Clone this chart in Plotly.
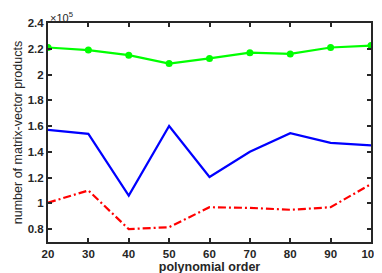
import plotly.graph_objects as go

orders = [20, 30, 40, 50, 60, 70, 80, 90, 100]
green_vals = [2.21, 2.19, 2.15, 2.085, 2.125, 2.17, 2.16, 2.21, 2.225]
blue_vals = [1.57, 1.54, 1.06, 1.60, 1.205, 1.40, 1.545, 1.47, 1.45]
red_vals = [1.005, 1.10, 0.80, 0.815, 0.97, 0.965, 0.95, 0.97, 1.15]
y_ticks = [0.8, 1.0, 1.2, 1.4, 1.6, 1.8, 2.0, 2.2, 2.4]
y_ticktext = ["0.8", "1", "1.2", "1.4", "1.6", "1.8", "2", "2.2", "2.4"]
x_ticks = [20, 30, 40, 50, 60, 70, 80, 90, 100]

fig = go.Figure()
fig.add_trace(go.Scatter(x=orders, y=green_vals, mode="lines+markers",
                         line=dict(color="#00ff00", width=2.2),
                         marker=dict(color="#00ff00", size=7)))
fig.add_trace(go.Scatter(x=orders, y=blue_vals, mode="lines",
                         line=dict(color="#0000ff", width=2.2)))
fig.add_trace(go.Scatter(x=orders, y=red_vals, mode="lines",
                         line=dict(color="#ff0000", width=2.2, dash="8px,3px,2px,3px")))

tickfont = dict(family="Liberation Sans", size=11.5, color="#262626", weight="bold")
axis_common = dict(showline=True, linecolor="#262626", linewidth=2, mirror="ticks",
                   ticks="inside", ticklen=4, tickwidth=2, tickcolor="#262626",
                   showgrid=False, zeroline=False, tickfont=tickfont)

fig.update_layout(
    width=382, height=273,
    margin=dict(l=35, r=9, t=14, b=31),
    paper_bgcolor="white", plot_bgcolor="white",
    showlegend=False,
    font=dict(family="Liberation Sans", color="#262626"),
    xaxis=dict(range=[20, 100], tickvals=x_ticks,
               title=dict(text="<b>polynomial order</b>", font=dict(size=12.5), standoff=3),
               **axis_common),
    yaxis=dict(range=[0.7, 2.4], tickvals=y_ticks, ticktext=y_ticktext,
               title=dict(text="number of matrix-vector products", font=dict(size=12.5), standoff=2),
               **axis_common),
)
fig.add_annotation(x=0, y=1, xref="paper", yref="paper", xanchor="left", yanchor="bottom",
                   text="×10<sup>5</sup>", showarrow=False,
                   font=dict(family="Liberation Sans", size=11, color="#262626"), yshift=-3)

fig.write_html("out.html")
